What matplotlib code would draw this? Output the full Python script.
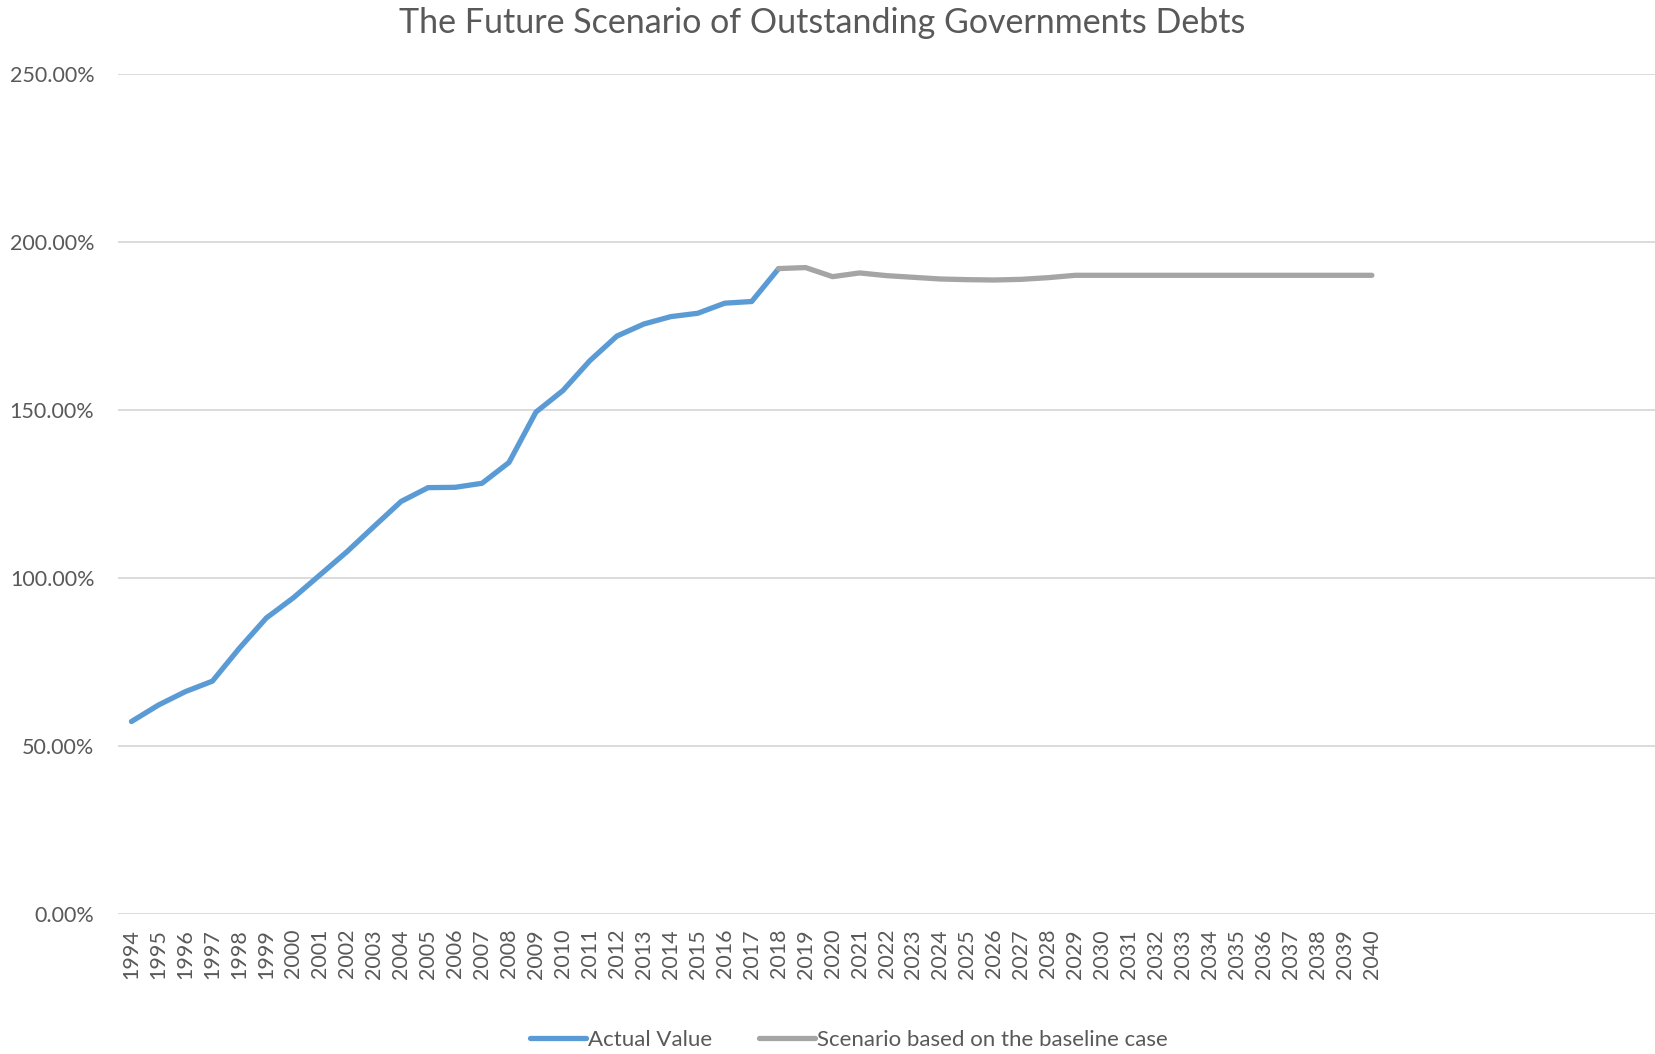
import matplotlib
matplotlib.use('Agg')
import matplotlib.pyplot as plt
from matplotlib.ticker import FuncFormatter

# Outstanding government debt as % of GDP
years_actual = list(range(1994, 2019))
debt_actual = [57.2, 62.1, 66.1, 69.2, 79.0, 88.0, 94.0, 100.9, 107.8, 115.3,
               122.7, 126.8, 126.9, 128.1, 134.3, 149.3, 155.7, 164.6, 171.9,
               175.5, 177.7, 178.7, 181.7, 182.2, 192.0]

years_scenario = list(range(2018, 2041))
debt_scenario = [192.0, 192.3, 189.6, 190.7, 189.9, 189.4, 188.9, 188.7, 188.6,
                 188.8, 189.3, 190.0, 190.0, 190.0, 190.0, 190.0, 190.0, 190.0,
                 190.0, 190.0, 190.0, 190.0, 190.0]

# category axis runs past the last labelled year (empty slots on the right)
n_slots = 57
first_year = 1994
tick_years = list(range(1994, 2041))

TEXT = '#595959'
plt.rcParams['font.family'] = ['Lato', 'DejaVu Sans']

fig = plt.figure(figsize=(16.55, 10.54), dpi=100)
ax = fig.add_axes([118 / 1655, 1 - 913.7 / 1054, 1 - 118 / 1655, (913.7 - 73.7) / 1054])

xa = [y - first_year for y in years_actual]
xs = [y - first_year for y in years_scenario]
ax.plot(xa, debt_actual, color='#5B9BD5', lw=3.8, solid_capstyle='round',
        solid_joinstyle='round', label='Actual Value', zorder=3)
ax.plot(xs, debt_scenario, color='#A5A5A5', lw=3.8, solid_capstyle='round',
        solid_joinstyle='round', label='Scenario based on the baseline case', zorder=4)

ax.set_xlim(-0.5, n_slots - 0.5)
ax.set_ylim(0, 250)
ax.set_yticks([0, 50, 100, 150, 200, 250])
ax.yaxis.set_major_formatter(FuncFormatter(lambda v, p: f'{v:.2f}%'))
ax.set_xticks([y - first_year for y in tick_years])
ax.set_xticklabels([str(y) for y in tick_years], rotation=90)

ax.grid(axis='y', color='#D9D9D9', lw=1.3)
ax.set_axisbelow(True)
for s in ax.spines.values():
    s.set_visible(False)
ax.tick_params(axis='both', length=0, colors=TEXT)
ax.tick_params(axis='y', labelsize=15.5, pad=17)
ax.tick_params(axis='x', labelsize=15.5, pad=11)

fig.suptitle('The Future Scenario of Outstanding Governments Debts', x=0.497, y=0.993,
             fontsize=24.5, color=TEXT, va='top')

leg = fig.legend(loc='center', bbox_to_anchor=(0.513, 0.0135), ncol=2, frameon=False,
                 fontsize=16, handlelength=2.5, handletextpad=0.12, columnspacing=2.1)
for t in leg.get_texts():
    t.set_color(TEXT)

fig.savefig('out.png', dpi=100)
